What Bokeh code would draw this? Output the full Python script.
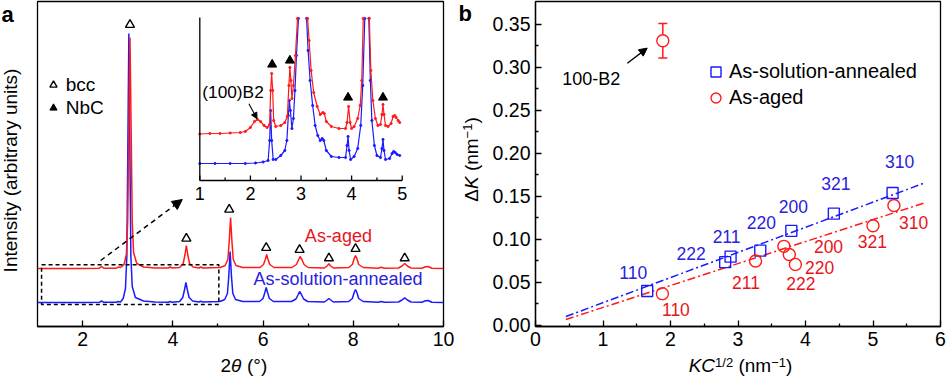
from math import pi
import numpy as np
from bokeh.plotting import figure
from bokeh.layouts import row
from bokeh.models import (Range1d, FixedTicker, Label, Arrow, NormalHead, TeeHead, Whisker,
                          BoxAnnotation, ColumnDataSource, Legend, LegendItem)
from bokeh.core.properties import value
from bokeh.embed import file_html
from bokeh.resources import INLINE

nan = float("nan")

# ---------------- Panel a: XRD patterns (2theta in degrees, intensity in arbitrary units)
aged_x = [1.0, 2.0, 2.37, 2.42, 2.47, 2.75, 2.79, 2.84, 2.92, 2.97, 3.00, 3.025, 3.05, 3.075, 3.10, 3.13, 3.2,
          3.35, 3.6, 3.9, 3.94, 3.98, 4.15, 4.23, 4.27, 4.30, 4.33, 4.37, 4.45, 4.58, 4.62, 4.66, 5.05, 5.16,
          5.22, 5.25, 5.28, 5.31, 5.34, 5.40, 5.55, 5.93, 6.01, 6.05, 6.08, 6.11, 6.15, 6.24, 6.64, 6.74, 6.79,
          6.82, 6.86, 6.91, 7.0, 7.36, 7.42, 7.46, 7.50, 7.56, 7.9, 7.98, 8.02, 8.05, 8.08, 8.12, 8.22, 8.55,
          8.62, 8.69, 9.0, 9.08, 9.14, 9.20, 9.28, 9.52, 9.6, 9.66, 9.74, 10.0]
aged_y = [58, 58, 58.3, 60, 58.3, 58.3, 59.5, 59, 62, 72, 105, 200, 289, 200, 105, 74, 63,
          59.5, 58.5, 58.5, 59.5, 58.5, 59, 63, 72, 81, 72, 63, 59.5, 58.5, 59.5, 58.5, 59, 61,
          67, 85, 109, 85, 67, 61, 59, 59, 62, 67, 72, 67, 62, 59, 59, 62, 67,
          70, 67, 62, 59, 58.5, 60.5, 62.7, 60.5, 58.5, 59, 62, 68, 71, 68, 62, 59, 58.3,
          59.3, 58.3, 58.5, 60.5, 63, 60.5, 58.5, 58.3, 59.8, 60, 58.3, 58]
sol_x = [1.0, 2.0, 2.37, 2.42, 2.47, 2.75, 2.79, 2.84, 2.90, 2.95, 2.98, 3.005, 3.025, 3.045, 3.07, 3.10, 3.17,
         3.35, 3.6, 3.9, 3.94, 3.98, 4.15, 4.22, 4.26, 4.29, 4.32, 4.36, 4.44, 4.58, 4.62, 4.66, 5.04, 5.15,
         5.21, 5.24, 5.27, 5.30, 5.33, 5.39, 5.55, 5.92, 6.00, 6.04, 6.07, 6.10, 6.14, 6.23, 6.63, 6.73, 6.78,
         6.81, 6.85, 6.90, 6.99, 7.36, 7.42, 7.46, 7.50, 7.56, 7.9, 7.98, 8.02, 8.05, 8.08, 8.12, 8.22, 8.55,
         8.62, 8.69, 9.0, 9.08, 9.14, 9.20, 9.28, 9.52, 9.6, 9.66, 9.74, 10.0]
sol_y = [24, 24, 24.2, 25.5, 24.2, 24.2, 25, 24.5, 28, 38, 70, 190, 293, 190, 70, 40, 29,
         25.5, 24.5, 24.3, 25, 24.3, 25, 29, 37, 44, 37, 29, 25.5, 24.5, 25.3, 24.5, 25, 27,
         33, 50, 75, 50, 33, 27, 25, 25, 28, 34, 39, 34, 28, 25, 25, 27.5, 32,
         35, 32, 27.5, 25, 24.5, 26.5, 28, 26.5, 24.5, 25, 28, 34, 37, 34, 28, 25, 24.3,
         25, 24.3, 24.5, 26.5, 28.6, 26.5, 24.5, 24.3, 25.8, 26, 24.3, 24]

bcc_x = [3.05, 4.30, 5.25, 6.07, 6.81, 7.46, 8.05, 9.14]
bcc_y = [301.7, 88, 117, 78.7, 76.7, 68.3, 77.7, 68.3]

xa_ticks = [2, 4, 6, 8, 10]
xa_labels = ["2", "4", "6", "8", "10"]
xa_minor = [3, 5, 7, 9]

# inset (2theta 1-5, zoomed intensity)
ins_aged_x = [1.0, 1.2, 1.4, 1.6, 1.8, 1.9, 2.0, 2.08, 2.14, 2.2, 2.27, 2.33, 2.38, 2.40, 2.42, 2.44, 2.46, 2.5,
              2.6, 2.68, 2.73, 2.76, 2.78, 2.80, 2.82, 2.85, 2.89, 2.93, nan, 3.13, 3.16, 3.2, 3.25, 3.32, 3.38,
              3.43, 3.46, 3.50, 3.6, 3.75, 3.88, 3.91, 3.94, 3.97, 4.0, 4.05, 4.12, 4.17, 4.20, 4.23, nan, 4.35,
              4.38, 4.42, 4.47, 4.52, 4.57, 4.60, 4.62, 4.64, 4.67, 4.72, 4.78, 4.82, 4.85, 4.88, 4.92, 4.95]
ins_aged_y = [46.5, 47, 47, 47.5, 48, 49, 53, 59, 61, 59, 55, 53, 56, 90, 107, 90, 60, 54,
              55, 58, 64, 95, 113, 100, 82, 95, 125, 162, nan, 162, 140, 110, 88, 74, 66,
              68, 67, 59, 54, 52, 52, 58, 74, 58, 52, 54, 62, 75, 100, 162, nan, 162,
              110, 80, 62, 55, 56, 66, 76, 66, 55, 54, 57, 64, 65, 63, 60, 58]
ins_sol_x = [1.0, 1.3, 1.6, 1.9, 2.1, 2.25, 2.35, 2.38, 2.40, 2.42, 2.45, 2.5, 2.6, 2.68, 2.72, 2.75, 2.77, 2.79,
             2.82, 2.85, 2.88, 2.91, 2.95, nan, 3.11, 3.14, 3.18, 3.23, 3.28, 3.33, 3.38, 3.42, 3.45, 3.5, 3.6,
             3.75, 3.88, 3.91, 3.93, 3.95, 3.98, 4.05, 4.12, 4.18, 4.22, 4.26, nan, 4.34, 4.37, 4.4, 4.45, 4.5,
             4.57, 4.60, 4.62, 4.64, 4.67, 4.75, 4.80, 4.83, 4.86, 4.9, 4.95]
ins_sol_y = [17, 17, 17, 17, 17.5, 18.5, 20, 40, 70, 40, 21, 21, 25, 30, 40, 65, 80, 70,
             52, 62, 90, 125, 162, nan, 162, 130, 100, 75, 55, 45, 40, 42, 40, 30, 24,
             23, 23, 35, 44, 30, 21, 24, 32, 55, 95, 162, nan, 162, 100, 60, 35, 25,
             23, 32, 41, 30, 21, 22, 27, 29, 28, 26, 25]
nbc_x = [2.43, 2.78, 3.93, 4.62]
nbc_y = [116, 120, 83, 83]
ins_ticks = [1, 2, 3, 4, 5]
ins_labels = ["1", "2", "3", "4", "5"]
ins_minor = [1.5, 2.5, 3.5, 4.5]

# ---------------- Panel b: Williamson-Hall type plot
sol_kc = [1.655, 2.81, 2.89, 3.33, 3.79, 4.42, 5.29]
sol_dk = [0.040, 0.0736, 0.080, 0.087, 0.110, 0.130, 0.154]
sol_hkl = ["110", "222", "211", "220", "200", "321", "310"]
aged_kc = [1.88, 3.26, 3.68, 3.76, 3.85, 5.00, 5.31]
aged_dk = [0.037, 0.075, 0.092, 0.0826, 0.071, 0.116, 0.1395]
aged_hkl = ["110", "211", "200", "220", "222", "321", "310"]
b2_kc = [1.886]
b2_dk = [0.331]
b2_err = [0.02]
fit_kc = [0.45, 5.75]
sol_fit = [0.0104, 0.1653]
aged_fit = [0.0069, 0.1422]

xb_ticks = [0, 1, 2, 3, 4, 5, 6]
xb_labels = ["0", "1", "2", "3", "4", "5", "6"]
xb_minor = [0.5, 1.5, 2.5, 3.5, 4.5, 5.5]
yb_ticks = [0.0, 0.05, 0.1, 0.15, 0.2, 0.25, 0.3, 0.35]
yb_labels = ["0.00", "0.05", "0.10", "0.15", "0.20", "0.25", "0.30", "0.35"]
yb_minor = [0.025, 0.075, 0.125, 0.175, 0.225, 0.275, 0.325]

# label offsets (pixels) for hkl annotations
sol_lbl_dx = [-14, -34, -4, 1, 2, 2, 7]
sol_lbl_dy = [19, 8.5, 20, 28, 24, 30, 31.5]
aged_lbl_dx = [13.5, -9.5, 44.6, 30.4, 5.4, -0.7, 19.6]
aged_lbl_dy = [-16.3, -21.5, 0, -12.7, -19.4, -15.5, -17.3]

# ---------------- styles
FONT = "Liberation Sans"
RED = "#ff1a1a"
BLUE = "#1a1aff"
RED_T = "#e8141c"
BLUE_T = "#2a22dd"
TICK_FS = "19.5px"

PA_FW, PA_FH = 406, 325
PB_FW, PB_FH = 405, 325
A_X = (1, 10)
A_Y = (0, 325)
B_X = (0, 6)
B_Y = (-0.0012, 0.3767)
ax_px = PA_FW / (A_X[1] - A_X[0])
ay_px = PA_FH / (A_Y[1] - A_Y[0])
bx_px = PB_FW / (B_X[1] - B_X[0])
by_px = PB_FH / (B_Y[1] - B_Y[0])

WID = {' ': 0.278, '(': 0.333, ')': 0.333, 'n': 0.556, 'm': 0.833, 'K': 0.667, 'C': 0.722,
       '1': 0.556, '2': 0.556, '/': 0.278, '\u2212': 0.584, '\u00b0': 0.4, '\u03b8': 0.556,
       '\u0394': 0.668, 'I': 0.278, 't': 0.278, 'e': 0.556, 's': 0.5, 'i': 0.222, 'y': 0.5,
       'a': 0.556, 'r': 0.333, 'b': 0.556, 'u': 0.556}


def tw(t, s):
    return sum(WID.get(c, 0.556) for c in t) * s


def free_text(p, x, y, t, size, style="normal", angle=0, align="left", baseline="middle"):
    # text glyph drawn at overlay level so it may sit outside the frame
    p.text(x=[x], y=[y], text=[t], angle=angle, text_font=value(FONT), text_font_size=f"{size}px",
           text_font_style=style, text_align=align, text_baseline=baseline,
           text_color="black", level="overlay")


def compose(p, pieces, x, y, pxx, pxy, vertical=False):
    # pieces: (text, font size, style, rise in px); (x, y) is the centre of the whole label
    total = sum(tw(t, s) for t, s, st, r in pieces)
    pos = -total / 2
    for t, s, st, r in pieces:
        lead = len(t) - len(t.lstrip(" "))
        txt = t.lstrip(" ")
        pos_t = pos + tw(" " * lead, s)
        if vertical:
            free_text(p, x - r / pxx, y + pos_t / pxy, txt, s, st, angle=pi / 2)
        else:
            free_text(p, x + pos_t / pxx, y + r / pxy, txt, s, st)
        pos += tw(t, s)


def style_axis(ax, ticks, minor, labels):
    ax.ticker = FixedTicker(ticks=ticks, minor_ticks=minor)
    ax.major_label_overrides = {t: l for t, l in zip(ticks, labels)}
    ax.major_tick_in = 6
    ax.major_tick_out = 0
    ax.minor_tick_in = 3
    ax.minor_tick_out = 0
    ax.major_tick_line_width = 1.3
    ax.minor_tick_line_width = 1.3
    ax.axis_line_width = 1.3
    ax.major_label_text_font = FONT
    ax.major_label_text_font_size = TICK_FS
    ax.major_label_text_color = "black"
    ax.major_label_standoff = 5


# ================= Panel a
pa = figure(frame_width=PA_FW, frame_height=PA_FH, min_border_left=37, min_border_right=12,
            min_border_top=1, min_border_bottom=51, x_range=Range1d(*A_X), y_range=Range1d(*A_Y),
            output_backend="svg", toolbar_location=None, tools="")
pa.outline_line_color = "black"
pa.outline_line_width = 1.3
pa.outline_line_alpha = 1
pa.grid.visible = False
pa.yaxis.visible = False
style_axis(pa.xaxis[0], xa_ticks, xa_minor, xa_labels)

pa.line(sol_x, sol_y, line_color=BLUE, line_width=1.5)
pa.line(aged_x, aged_y, line_color=RED, line_width=1.5)
r_bcc = pa.scatter(bcc_x, bcc_y, marker="triangle", size=9, fill_color=None,
                   line_color="black", line_width=1.4)

pa.add_layout(BoxAnnotation(left=1.09, right=5.02, bottom=22, top=61.7, fill_alpha=0,
                            line_color="black", line_alpha=1, line_width=1.5, line_dash="4 3"))
pa.add_layout(Arrow(x_start=2.4, y_start=66, x_end=4.21, y_end=127, line_color="black",
                    line_width=1.5, line_dash="5 4",
                    end=NormalHead(size=10, fill_color="black", line_color="black")))

pa.add_layout(Label(x=7.67, y=90.3, text="As-aged", text_font=FONT, text_font_size="18px",
                    text_color=RED_T, text_align="center", text_baseline="middle"))
pa.add_layout(Label(x=7.66, y=47.7, text="As-solution-annealed", text_font=FONT,
                    text_font_size="18px", text_color=BLUE_T, text_align="center",
                    text_baseline="middle"))

# inset as a sub-coordinate system of panel a
INS_XS, INS_YS = (1, 5), (0, 163)
INS_XT, INS_YT = (4.598, 9.085), (146, 309)
ins = pa.subplot(x_source=Range1d(*INS_XS), y_source=Range1d(*INS_YS),
                 x_target=Range1d(*INS_XT), y_target=Range1d(*INS_YT))


def ins2main(x, y):
    return (INS_XT[0] + (x - INS_XS[0]) * (INS_XT[1] - INS_XT[0]) / (INS_XS[1] - INS_XS[0]),
            INS_YT[0] + (y - INS_YS[0]) * (INS_YT[1] - INS_YT[0]) / (INS_YS[1] - INS_YS[0]))


ins.line(np.array(ins_sol_x), np.array(ins_sol_y), line_color=BLUE, line_width=1.2)
ins.scatter(np.array(ins_sol_x), np.array(ins_sol_y), size=2.2, color=BLUE)
ins.line(np.array(ins_aged_x), np.array(ins_aged_y), line_color=RED, line_width=1.2)
ins.scatter(np.array(ins_aged_x), np.array(ins_aged_y), size=2.2, color=RED)
r_nbc = ins.scatter(nbc_x, nbc_y, marker="triangle", size=9, fill_color="black", line_color="black")
ins.segment(x0=[INS_XS[0], INS_XS[0]], y0=[INS_YS[0], INS_YS[0]],
            x1=[INS_XS[0], INS_XS[1]], y1=[INS_YS[1], INS_YS[0]], line_color="black", line_width=1.3)
ins.segment(x0=ins_ticks, y0=[0] * len(ins_ticks), x1=ins_ticks, y1=[5] * len(ins_ticks),
            line_color="black", line_width=1.3)
ins.segment(x0=ins_minor, y0=[0] * len(ins_minor), x1=ins_minor, y1=[3] * len(ins_minor),
            line_color="black", line_width=1.3)
ins.text(x=ins_ticks, y=[-13] * len(ins_ticks), text=ins_labels, text_font=value(FONT),
         text_font_size="18px", text_color="black", text_align="center", text_baseline="middle")
ins.text(x=[1.656], y=[88.3], text=["(100)B2"], text_font=value(FONT), text_font_size="17.3px",
         text_color="black", text_align="center", text_baseline="middle")
(ax0, ay0), (ax1, ay1) = ins2main(1.97, 76.7), ins2main(2.13, 61.7)
pa.add_layout(Arrow(x_start=ax0, y_start=ay0, x_end=ax1, y_end=ay1, line_color="black",
                    line_width=1.1, end=NormalHead(size=6, fill_color="black", line_color="black")))

leg_a = Legend(items=[LegendItem(label="bcc", renderers=[r_bcc]),
                      LegendItem(label="NbC", renderers=[r_nbc])],
               location=(6.7, 207), glyph_width=18, glyph_height=23, label_height=23, spacing=0,
               padding=0, margin=0, label_standoff=4, border_line_color=None,
               background_fill_alpha=0, label_text_font=FONT, label_text_font_size="19px",
               label_text_color="black")
pa.add_layout(leg_a)

# axis labels of panel a (page pixels converted to data units)
compose(pa, [("Intensity (arbitrary units)", 19, "normal", 0)], 1 + (9.5 - 37) / ax_px, 156,
        ax_px, ay_px, vertical=True)
compose(pa, [("2", 19, "normal", 0), ("\u03b8", 19, "italic", 0), (" (\u00b0)", 19, "normal", 0)],
        5.575, -(364.5 - 326) / ay_px, ax_px, ay_px)
free_text(pa, 1 - 36 / ax_px, A_Y[1] - (13.5 - 1) / ay_px, "a", 22, "bold")

# ================= Panel b
pb = figure(frame_width=PB_FW, frame_height=PB_FH, min_border_left=80, min_border_right=6,
            min_border_top=1, min_border_bottom=51, x_range=Range1d(*B_X), y_range=Range1d(*B_Y),
            output_backend="svg", toolbar_location=None, tools="")
pb.outline_line_color = "black"
pb.outline_line_width = 1.3
pb.outline_line_alpha = 1
pb.grid.visible = False
style_axis(pb.xaxis[0], xb_ticks, xb_minor, xb_labels)
style_axis(pb.yaxis[0], yb_ticks, yb_minor, yb_labels)

pb.line(fit_kc, sol_fit, line_color=BLUE, line_width=1.5, line_dash="8 3 2 3")
pb.line(fit_kc, aged_fit, line_color=RED, line_width=1.5, line_dash="8 3 2 3")
r_sol = pb.scatter(sol_kc, sol_dk, marker="square", size=11, fill_color=None,
                   line_color=BLUE, line_width=1.4)
r_aged = pb.scatter(aged_kc, aged_dk, marker="circle", size=12, fill_color=None,
                    line_color=RED, line_width=1.4)

src_b2 = ColumnDataSource(dict(x=b2_kc, lo=[d - e for d, e in zip(b2_dk, b2_err)],
                               hi=[d + e for d, e in zip(b2_dk, b2_err)]))
pb.add_layout(Whisker(base="x", lower="lo", upper="hi", source=src_b2, dimension="height",
                      line_color=RED, line_width=1.5, level="underlay",
                      upper_head=TeeHead(size=9, line_color=RED, line_width=1.5),
                      lower_head=TeeHead(size=9, line_color=RED, line_width=1.5)))
pb.scatter(b2_kc, b2_dk, marker="circle", size=12, fill_color="white", line_color=RED, line_width=1.4)
pb.add_layout(Arrow(x_start=1.36, y_start=0.305, x_end=1.655, y_end=0.3225, line_color="black",
                    line_width=1.3, end=NormalHead(size=8, fill_color="black", line_color="black")))
pb.add_layout(Label(x=0.825, y=0.287, text="100-B2", text_font=FONT, text_font_size="18px",
                    text_color="black", text_align="center", text_baseline="middle"))

pb.text(x=[k + dx / bx_px for k, dx in zip(sol_kc, sol_lbl_dx)],
        y=[d + dy / by_px for d, dy in zip(sol_dk, sol_lbl_dy)], text=sol_hkl,
        text_font=value(FONT), text_font_size="17.5px", text_color=BLUE_T,
        text_align="center", text_baseline="middle")
pb.text(x=[k + dx / bx_px for k, dx in zip(aged_kc, aged_lbl_dx)],
        y=[d + dy / by_px for d, dy in zip(aged_dk, aged_lbl_dy)], text=aged_hkl,
        text_font=value(FONT), text_font_size="17.5px", text_color=RED_T,
        text_align="center", text_baseline="middle")

leg_b = Legend(items=[LegendItem(label="As-solution-annealed", renderers=[r_sol]),
                      LegendItem(label="As-aged", renderers=[r_aged])],
               location=(168, 216.5), glyph_width=25, glyph_height=25, label_height=25, spacing=1,
               padding=0, margin=0, label_standoff=1, border_line_color=None,
               background_fill_alpha=0, label_text_font=FONT, label_text_font_size="20px",
               label_text_color="black")
pb.add_layout(leg_b)

compose(pb, [("\u0394", 19, "normal", 0), ("K", 19, "italic", 0), (" (nm", 19, "normal", 0),
             ("\u22121", 13, "normal", 3.5), (")", 19, "normal", 0)],
        (470.5 - 535) / bx_px, 0.193, bx_px, by_px, vertical=True)
compose(pb, [("KC", 19, "italic", 0), ("1/2", 13, "normal", 3.5), (" (nm", 19, "normal", 0),
             ("\u22121", 13, "normal", 3.5), (")", 19, "normal", 0)],
        (740 - 535) / bx_px, -(365.5 - 325) / by_px, bx_px, by_px)
free_text(pb, (458 - 535) / bx_px, (325 - 13.5) / by_px, "b", 22, "bold")

layout = row(pa, pb)
open("out.html", "w").write(file_html(layout, INLINE))
